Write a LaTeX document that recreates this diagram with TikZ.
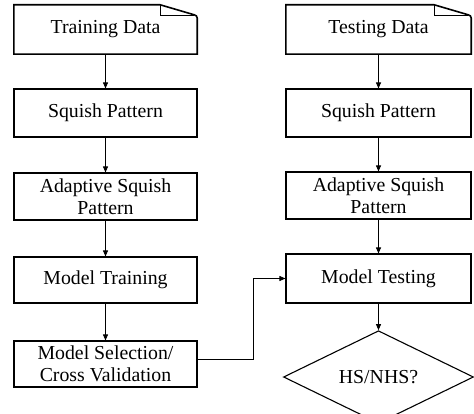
\documentclass[tikz,border=0pt]{standalone}
\usepackage{fontspec}
\setmainfont{Liberation Serif}
\usetikzlibrary{arrows.meta,shapes.geometric}
\begin{document}
\begin{tikzpicture}[x=1pt,y=1pt,
  every node/.style={font=\fontsize{19.8}{22}\selectfont, align=center, inner sep=0pt},
  box/.style={draw, line width=1.1pt, minimum width=183pt, minimum height=47pt},
  docbox/.style={minimum width=183pt, minimum height=49pt},
  decision/.style={draw, diamond, line width=1.1pt, minimum width=190pt, minimum height=73pt},
  arr/.style={-{Triangle[length=6pt,width=5pt]}, line width=0.9pt},
  docline/.style={draw=black, line width=1.6pt, line join=miter}]
\useasboundingbox (0,0) rectangle (474,-414);

% training branch
\node[docbox] (td)   at (105.5,-29.5) {Training Data};
\node[box, minimum height=48pt] (sp1)  at (105.5,-113) {Squish Pattern};
\node[box] (asp1) at (105.5,-196.5) {Adaptive Squish\\Pattern};
\node[box, minimum height=46pt] (mt)   at (105.5,-280) {Model Training};
\node[box, minimum height=46pt] (ms)   at (105.5,-364) {Model Selection/\\Cross Validation};

% testing branch
\node[docbox, minimum width=185pt] (tsd)  at (378.5,-29.5) {Testing Data};
\node[box, minimum width=185pt, minimum height=48pt] (sp2)  at (378.5,-113) {Squish Pattern};
\node[box, minimum width=185pt] (asp2) at (378.5,-195.5) {Adaptive Squish\\Pattern};
\node[box, minimum width=185pt, minimum height=49pt] (mtest) at (378.5,-278.5) {Model Testing};
\node[decision] (dec) at (378.5,-377) {HS/NHS?};

% document outlines with folded corner
\draw[docline] ([yshift=-13pt]td.north east) -- (td.south east) -- (td.south west)
  -- (td.north west) -- ([xshift=-37pt]td.north east)
  -- ([xshift=-3pt,yshift=-10pt]td.north east)
  to[out=-15,in=90] ([yshift=-13pt]td.north east);
\draw[docline, line width=1.1pt] ([xshift=-37pt]td.north east) -- ([xshift=-37pt,yshift=-11pt]td.north east)
  -- ([xshift=-3pt,yshift=-11pt]td.north east);
\draw[docline] ([yshift=-13pt]tsd.north east) -- (tsd.south east) -- (tsd.south west)
  -- (tsd.north west) -- ([xshift=-37pt]tsd.north east)
  -- ([xshift=-3pt,yshift=-10pt]tsd.north east)
  to[out=-15,in=90] ([yshift=-13pt]tsd.north east);
\draw[docline, line width=1.1pt] ([xshift=-37pt]tsd.north east) -- ([xshift=-37pt,yshift=-11pt]tsd.north east)
  -- ([xshift=-3pt,yshift=-11pt]tsd.north east);

% connectors
\draw[arr] (td) -- (sp1);
\draw[arr] (sp1) -- (asp1);
\draw[arr] (asp1) -- (mt);
\draw[arr] (mt) -- (ms);
\draw[arr] (tsd) -- (sp2);
\draw[arr] (sp2) -- (asp2);
\draw[arr] (asp2) -- (mtest);
\draw[arr] (mtest) -- (dec);
\coordinate (bend) at (253,-359);
\draw[arr] (ms.east |- bend) -- (bend) |- (mtest.west);
\end{tikzpicture}
\end{document}
